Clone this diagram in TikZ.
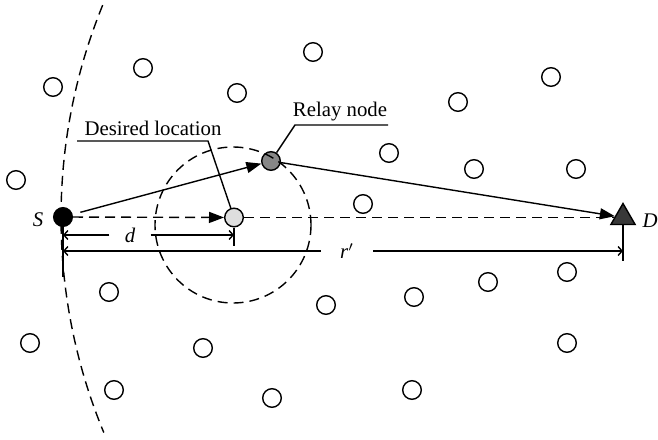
\documentclass[tikz,border=0pt]{standalone}
\usepackage{fontspec}
\setmainfont{Liberation Serif}
\usetikzlibrary{arrows.meta,shapes.geometric}

\begin{document}
\begin{tikzpicture}[x=0.5pt,y=-0.5pt,line width=0.7pt,font=\fontsize{10.4}{12}\selectfont]
    \tikzstyle{station}=[circle,draw,minimum size=9.3pt,inner sep=0pt]
    \tikzstyle{idle station}=[station, fill=white];
    \tikzstyle{source station}=[station, fill=black];
    \tikzstyle{relay station}=[station, fill=black!47];
    \tikzstyle{target station}=[station, fill=black!13];
    \tikzstyle{dest station}=[regular polygon,regular polygon sides=3,draw,fill=black!78,minimum size=14pt,inner sep=0pt];
    \tikzstyle{hop}=[-{Triangle[length=7.5pt,width=5.5pt]}];
    \tikzstyle{barb}=[-{Straight Barb[length=2pt,width=4.5pt]}];
    \tikzstyle{ring}=[dash pattern=on5pt off3pt];
    \useasboundingbox (0,0) rectangle (658,439);
    % Draw the other nodes
    \foreach \name / \x / \y in {1/53/87,2/143/68,3/237/93,4/313/52,5/551/77,6/458/102,
        7/389/153,8/474/169,9/576/169,10/363/204,11/16/180,12/109/292,13/30/343,
        14/114/390,15/203/348,16/272/398,17/326/305,18/414/297,19/488/282,
        20/567/272,21/567/343,22/412/390}
      \node[idle station] (N\name) at (\x,\y) {};
    % Source, relay, desired location and destination
      \node[source station] (S) at (63,217) {};
      \node[relay station] (R) at (271,161) {};
      \node[target station] (A) at (234,217.5) {};
      \node[dest station] (D) at (623,217.5) {};
      \node (SL) at (38,220) {\textit{S}};
      \node (DL) at (650,221) {\textit{D}};
    % Coverage circle and arc of radius r'
      \draw[ring] (233,225) circle[radius=78];
      \draw[ring] (D.center) ++(202.2:562) arc[start angle=202.2, end angle=157.5, radius=562];

      \path  (S) edge [hop, shorten <=4pt] (R);
      \path  (R) edge [hop] (D);
      \path  (S) edge [hop, ring] (A);
      \path  (A) edge [ring] (D);
    % Distances
      \coordinate (S1) at (63,277);
      \coordinate (A1) at (234,246);
      \coordinate (D1) at (623,261);
      \path  (S) edge (S1) (A) edge (A1) (D) edge (D1);
      \node[minimum width=20pt, inner sep=0pt] (dL) at (130,235) {\textit{d}};
      \node[minimum width=25.5pt, inner sep=0pt] (rL) at (347,251) {\textit{r}$'$};
      \draw[barb] (dL.west) -- (dL.west -| S);
      \draw[barb] (dL.east) -- (dL.east -| A);
      \draw[barb] (rL.west) -- (rL.west -| S);
      \draw[barb] (rL.east) -- (rL.east -| D);
    % Labels
      \node (AL) at (153,128) {Desired location};
      \node (RL) at (340,112) {Relay node};
      \coordinate (A2) at (77,141);
      \coordinate (A3) at (208,141);
      \coordinate (R2) at (388,125);
      \coordinate (R3) at (295,125);
      \draw (A2) -- (A3) -- (A);
      \draw (R2) -- (R3) -- (R);
\end{tikzpicture}
\end{document}
